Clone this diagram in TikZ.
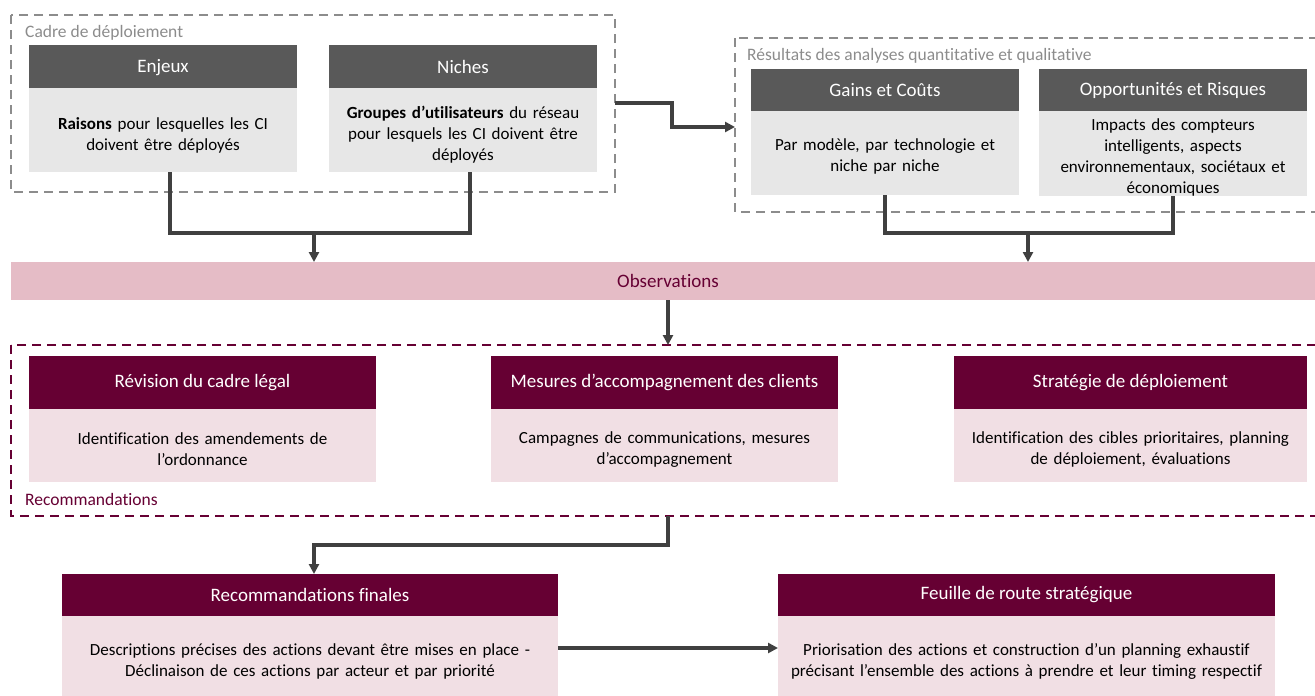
\documentclass[tikz,border=0pt]{standalone}
\usepackage{fontspec}
\setmainfont[Ligatures=NoCommon]{Carlito}
\usetikzlibrary{arrows.meta}
\definecolor{hdrgray}{HTML}{595959}
\definecolor{bodygray}{HTML}{E7E7E7}
\definecolor{maroonc}{HTML}{660033}
\definecolor{pinkbody}{HTML}{F1DFE4}
\definecolor{obsband}{HTML}{E5BCC6}
\definecolor{dashgray}{HTML}{8C8C8C}
\definecolor{linegray}{HTML}{404040}
\newcommand\bodystrut{\rule{0pt}{19pt}}
\begin{document}
\begin{tikzpicture}[x=1pt,y=-1pt,
  base/.style={inner sep=0pt, outer sep=0pt, anchor=north west, align=center},
  ghdr/.style={base, fill=hdrgray, text=white, font=\fontsize{19}{22}\selectfont},
  gbody/.style={base, fill=bodygray, text=black, font=\fontsize{17}{21}\selectfont},
  mhdr/.style={base, fill=maroonc, text=white, font=\fontsize{19}{22}\selectfont},
  mbody/.style={base, fill=pinkbody, text=black, font=\fontsize{17}{21}\selectfont},
  gframe/.style={draw=dashgray, line width=2.4pt, dash pattern=on 9pt off 6pt},
  mframe/.style={draw=maroonc, line width=2.4pt, dash pattern=on 9pt off 6pt},
  glabel/.style={anchor=west, inner sep=0pt, text=dashgray, font=\fontsize{17.5}{20}\selectfont},
  mlabel/.style={anchor=west, inner sep=0pt, text=maroonc, font=\fontsize{17.5}{20}\selectfont},
  conn/.style={draw=linegray, line width=3.6pt},
  arr/.style={conn, -{Triangle[length=10pt,width=10pt]}}]
\useasboundingbox (0,0) rectangle (1315,696);

% ---- Top-left frame
\draw[gframe] (11,15) rectangle (615,192);
\node[glabel] (cadre) at (25,33) {Cadre de déploiement};
\node[ghdr, minimum width=268pt, minimum height=43pt] (enjeuxh) at (29,45) {\rule{0pt}{15pt}Enjeux};
\node[gbody, minimum width=268pt, minimum height=84pt, text width=268pt] (enjeuxb) at (29,88)
  {\rule{0pt}{22pt}\textbf{Raisons} pour lesquelles les CI\\doivent être déployés};
\node[ghdr, minimum width=268pt, minimum height=43pt] (nichesh) at (329,45) {\rule{0pt}{15pt}Niches};
\node[gbody, minimum width=268pt, minimum height=84pt, text width=268pt] (nichesb) at (329,88)
  {\rule{0pt}{22pt}\textbf{Groupes d’utilisateurs} du réseau\\pour lesquels les CI doivent être\\déployés};

% ---- Top-right frame
\draw[gframe] (735,38) rectangle (1325,212);
\node[glabel] (resultats) at (747,56) {Résultats des analyses quantitative et qualitative};
\node[ghdr, minimum width=268pt, minimum height=42pt] (gainsh) at (751,69) {Gains et Coûts};
\node[gbody, minimum width=268pt, minimum height=84pt, text width=268pt] (gainsb) at (751,111)
  {\bodystrut Par modèle, par technologie et\\niche par niche};
\node[ghdr, minimum width=268pt, minimum height=42pt] (opph) at (1039,69) {Opportunités et Risques};
\node[gbody, minimum width=268pt, minimum height=84pt, text width=268pt] (oppb) at (1039,111)
  {\bodystrut Impacts des compteurs\\intelligents, aspects\\environnementaux, sociétaux et\\économiques};

% ---- Observations band
\node[base, fill=obsband, minimum width=1310pt, minimum height=38pt] (obs) at (11,262) {};
\node[text=maroonc, font=\fontsize{19}{22}\selectfont, inner sep=0pt] (obstext) at (668,281) {Observations};

% ---- Recommandations frame
\draw[mframe] (11,345) rectangle (1325,516);
\node[mlabel] (recolabel) at (25,499) {Recommandations};
\node[mhdr, minimum width=347pt, minimum height=53pt] (revh) at (29,356) {Révision du cadre légal};
\node[mbody, minimum width=347pt, minimum height=73pt, text width=347pt] (revb) at (29,409)
  {\bodystrut Identification des amendements de\\l’ordonnance};
\node[mhdr, minimum width=347pt, minimum height=53pt] (mesh) at (491,356) {Mesures d’accompagnement des clients};
\node[mbody, minimum width=347pt, minimum height=73pt, text width=347pt] (mesb) at (491,409)
  {\bodystrut Campagnes de communications, mesures\\d’accompagnement};
\node[mhdr, minimum width=353pt, minimum height=53pt] (strath) at (954,356) {Stratégie de déploiement};
\node[mbody, minimum width=353pt, minimum height=73pt, text width=353pt] (stratb) at (954,409)
  {\bodystrut Identification des cibles prioritaires, planning\\de déploiement, évaluations};

% ---- Bottom boxes
\node[mhdr, minimum width=496pt, minimum height=42pt] (finh) at (62,574) {Recommandations finales};
\node[mbody, minimum width=496pt, minimum height=84pt, text width=496pt] (finb) at (62,616)
  {\bodystrut Descriptions précises des actions devant être mises en place -\\Déclinaison de ces actions par acteur et par priorité};
\node[mhdr, minimum width=497pt, minimum height=42pt] (feuh) at (778,574) {Feuille de route stratégique};
\node[mbody, minimum width=497pt, minimum height=84pt, text width=497pt] (feub) at (778,616)
  {\bodystrut Priorisation des actions et construction d’un planning exhaustif\\précisant l’ensemble des actions à prendre et leur timing respectif};

% ---- Connectors
\coordinate (j1) at (314,233);
\coordinate (j2) at (1028,233);
\coordinate (s1) at (672,103);
\coordinate (s2) at (672,127);
\coordinate (j3) at (668,545);
\coordinate (framebot) at (668,516);
\coordinate (frametop) at (668,345);
\coordinate (rframe) at (735,127);
\coordinate (lframe) at (615,103);

\draw[conn] ([xshift=7pt]enjeuxb.south) |- (j1) -| ([xshift=7pt]nichesb.south);
\draw[arr] (j1) -- (j1 |- obs.north);
\draw[conn] (gainsb.south) |- (j2) -| (oppb.south);
\draw[arr] (j2) -- (j2 |- obs.north);
\draw[arr] (lframe) -- (s1) -- (s2) -- (rframe);
\draw[arr] (obs.south -| frametop) -- (frametop);
\draw[arr] (framebot) -- (j3) -| (finh.north -| j1);
\draw[arr] ([yshift=10pt]finb.east) -- ([yshift=10pt]feub.west);
\end{tikzpicture}
\end{document}
